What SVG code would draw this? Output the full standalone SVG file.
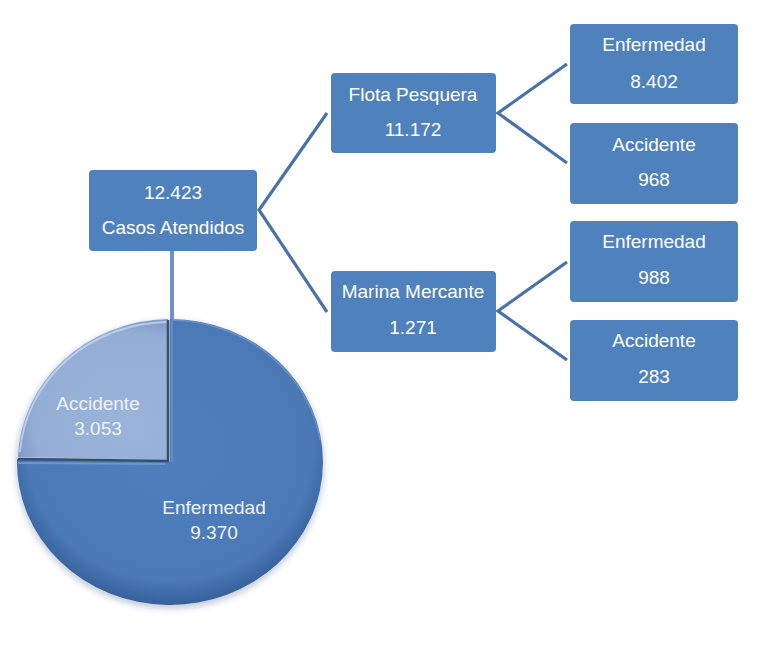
<svg xmlns="http://www.w3.org/2000/svg" width="766" height="650" viewBox="0 0 766 650">
<defs>
<radialGradient id="gEnf" cx="0.5" cy="0.45" r="0.55">
<stop offset="0" stop-color="#4f7fbd"/>
<stop offset="0.85" stop-color="#4a79b6"/>
<stop offset="1" stop-color="#36609a"/>
</radialGradient>
<radialGradient id="gAcc" cx="0.75" cy="0.75" r="0.8">
<stop offset="0" stop-color="#9ab3da"/>
<stop offset="0.8" stop-color="#94aed6"/>
<stop offset="1" stop-color="#7b97c4"/>
</radialGradient>
<filter id="sh" x="-10%" y="-10%" width="120%" height="120%">
<feGaussianBlur stdDeviation="3"/>
</filter>
</defs>
<style>
.box{fill:#4f81bd;}
.t{font-family:"Liberation Sans",Arial,sans-serif;font-size:19px;fill:#ffffff;text-anchor:middle;}
.pt{font-family:"Liberation Sans",Arial,sans-serif;font-size:19px;fill:#eef2f9;text-anchor:middle;}
.c{stroke:#4a72a8;stroke-width:3.2;fill:none;stroke-linejoin:miter;}
</style>
<rect width="766" height="650" fill="#ffffff"/>
<g id="connectors">
<polyline class="c" points="327,113 259,210 327,312"/>
<polyline class="c" points="567,64 498,113 567,163"/>
<polyline class="c" points="567,262 498,311 567,360"/>
<line x1="172" y1="251" x2="172" y2="322" stroke="#6f93c6" stroke-width="4"/>
</g>
<g id="pie">
<ellipse cx="170" cy="465" rx="154" ry="144" fill="#8a9bb5" opacity="0.5" filter="url(#sh)"/>
<path d="M170,462 L170,319 A153,143 0 1,1 17,459 Z" fill="url(#gEnf)"/>
<path d="M172,462 L172,320 A153,143 0 0,1 320,440" fill="none" stroke="#7fa0d0" stroke-width="1.5" opacity="0.6"/>
<path d="M168,460 L18,457 A153,143 0 0,1 168,319 Z" fill="url(#gAcc)"/>
<path d="M20,452 A150,140 0 0,1 168,322" fill="none" stroke="#c5d4ec" stroke-width="2" opacity="0.8"/>
<path d="M18,459 L168,461 L168,320" fill="none" stroke="#34506f" stroke-width="2.5"/>
<path d="M18,463 L165,464" stroke="#6f96cc" stroke-width="2"/>
<text class="pt" x="98" y="410">Accidente</text>
<text class="pt" x="98" y="435">3.053</text>
<text class="pt" x="214" y="514">Enfermedad</text>
<text class="pt" x="214" y="539">9.370</text>
</g>
<g id="root">
<rect class="box" x="89" y="170" width="168" height="81" rx="4"/>
<text class="t" x="173" y="199">12.423</text>
<text class="t" x="173" y="234">Casos Atendidos</text>
</g>
<g id="flota">
<rect class="box" x="331" y="73" width="165" height="80" rx="4"/>
<text class="t" x="413" y="101">Flota Pesquera</text>
<text class="t" x="413" y="136">11.172</text>
</g>
<g id="marina">
<rect class="box" x="331" y="271" width="165" height="81" rx="4"/>
<text class="t" x="413" y="298">Marina Mercante</text>
<text class="t" x="413" y="334">1.271</text>
</g>
<g id="fp-enf">
<rect class="box" x="570" y="24" width="168" height="80" rx="4"/>
<text class="t" x="654" y="51">Enfermedad</text>
<text class="t" x="654" y="88">8.402</text>
</g>
<g id="fp-acc">
<rect class="box" x="570" y="123" width="168" height="81" rx="4"/>
<text class="t" x="654" y="151">Accidente</text>
<text class="t" x="654" y="186">968</text>
</g>
<g id="mm-enf">
<rect class="box" x="570" y="221" width="168" height="81" rx="4"/>
<text class="t" x="654" y="248">Enfermedad</text>
<text class="t" x="654" y="284">988</text>
</g>
<g id="mm-acc">
<rect class="box" x="570" y="320" width="168" height="81" rx="4"/>
<text class="t" x="654" y="347">Accidente</text>
<text class="t" x="654" y="383">283</text>
</g>
</svg>
